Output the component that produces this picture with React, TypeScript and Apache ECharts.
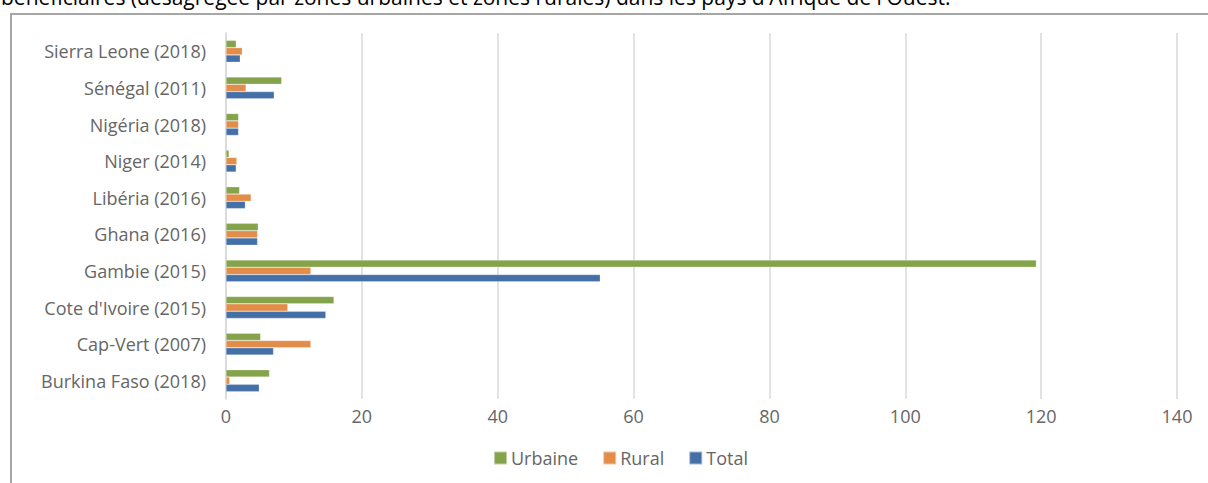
import React, { useEffect, useRef } from "react";
import * as echarts from "echarts";

const categories = [
  "Burkina Faso (2018)",
  "Cap-Vert (2007)",
  "Cote d'Ivoire (2015)",
  "Gambie (2015)",
  "Ghana (2016)",
  "Libéria (2016)",
  "Niger (2014)",
  "Nigéria (2018)",
  "Sénégal (2011)",
  "Sierra Leone (2018)",
];
const urbaine = [6.4, 5.1, 15.9, 119.3, 4.75, 2.0, 0.45, 1.85, 8.2, 1.5];
const rural = [0.55, 12.5, 9.1, 12.5, 4.65, 3.7, 1.6, 1.85, 2.95, 2.4];
const total = [4.9, 7.0, 14.7, 55.1, 4.65, 2.85, 1.5, 1.85, 7.1, 2.1];
const xTicks = { min: 0, max: 140, interval: 20 };
const titleText =
  "bénéficiaires (désagrégée par zones urbaines et zones rurales) dans les pays d'Afrique de l'Ouest.";

const FONT = "'Open Sans', 'Noto Sans', sans-serif";

export default function App() {
  const ref = useRef<HTMLDivElement>(null);
  useEffect(() => {
    if (!ref.current) return;
    const chart = echarts.init(ref.current, undefined, { renderer: "svg" });
    const barStyle = (color: string) => ({
      color,
      borderColor: "rgba(255,255,255,0.5)",
      borderWidth: 0.5,
    });
    chart.setOption({
      animation: false,
      backgroundColor: "#ffffff",
      textStyle: { fontFamily: FONT },
      grid: { left: 226, right: 31, top: 33, bottom: 84 },
      xAxis: {
        type: "value",
        min: xTicks.min,
        max: xTicks.max,
        interval: xTicks.interval,
        axisLine: { show: false },
        axisTick: { show: false },
        splitLine: { lineStyle: { color: "#d9d9d9", width: 1.5 } },
        axisLabel: { color: "#666666", fontSize: 18, margin: 8, fontFamily: FONT },
      },
      yAxis: {
        type: "category",
        data: categories,
        axisLine: { show: true, lineStyle: { color: "#d9d9d9", width: 1.5 } },
        axisTick: { show: false },
        axisLabel: { color: "#666666", fontSize: 18, margin: 20, fontFamily: FONT },
      },
      legend: {
        data: ["Urbaine", "Rural", "Total"],
        left: 493,
        top: 449,
        padding: 0,
        itemWidth: 13,
        itemHeight: 13,
        itemGap: 24,
        icon: "rect",
        textStyle: { color: "#666666", fontSize: 18, fontFamily: FONT, padding: [0, 0, 0, -1] },
      },
      series: [
        {
          name: "Urbaine",
          type: "bar",
          data: urbaine,
          barWidth: 7.3,
          barGap: "0%",
          itemStyle: barStyle("#84a34a"),
        },
        {
          name: "Rural",
          type: "bar",
          data: rural,
          barWidth: 7.3,
          barGap: "0%",
          itemStyle: barStyle("#e28d4a"),
        },
        {
          name: "Total",
          type: "bar",
          data: total,
          barWidth: 7.3,
          barGap: "0%",
          itemStyle: barStyle("#4470a8"),
        },
      ],
      graphic: [
        {
          type: "polyline",
          shape: { points: [[11, 483], [11, 14], [1208, 14]] },
          style: { stroke: "#a6a6a6", lineWidth: 2, fill: "none" },
          silent: true,
        },
        {
          type: "text",
          left: 1,
          top: -14,
          style: {
            text: titleText,
            fontSize: 21,
            fontFamily: FONT,
            fill: "#000000",
          },
          silent: true,
        },
      ],
    });
    return () => chart.dispose();
  }, []);
  return (
    <div
      ref={ref}
      style={{ position: "fixed", left: 0, top: 0, width: 1208, height: 483 }}
    />
  );
}
